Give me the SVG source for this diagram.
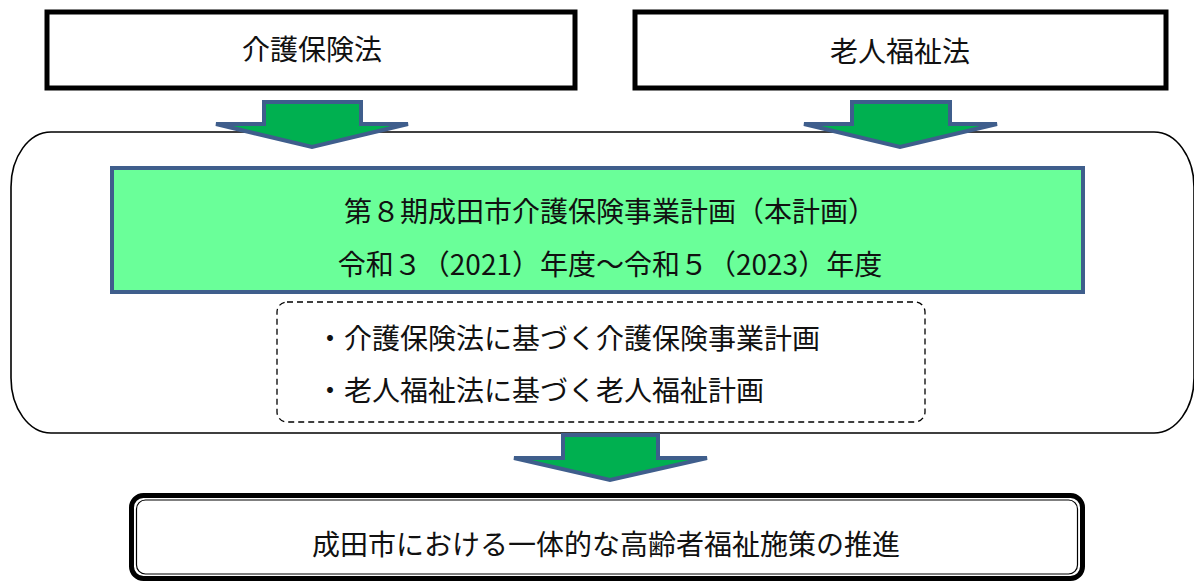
<svg xmlns="http://www.w3.org/2000/svg" width="1194" height="582" viewBox="0 0 1194 582">
<style>
text{font-family:"Noto Sans CJK JP","Noto Sans",sans-serif;font-size:28px;fill:#111;}
.c{text-anchor:middle;}
.law{fill:#fff;stroke:#000;stroke-width:5;}
.arrow{fill:#00B050;stroke:#3F5E8C;stroke-width:4;stroke-linejoin:miter;}
</style>
<rect x="0" y="0" width="1194" height="582" fill="#fff"/>
<g id="frame">
<rect x="11" y="132" width="1183" height="301" rx="40" ry="55" fill="#fff" stroke="#000" stroke-width="1.6"/>
</g>
<g id="law1">
<rect class="law" x="47" y="12" width="528" height="76"/>
<text class="c" x="312" y="60">介護保険法</text>
</g>
<g id="law2">
<rect class="law" x="635" y="12" width="531" height="76"/>
<text class="c" x="900" y="62">老人福祉法</text>
</g>
<g id="connectors">
<polygon class="arrow" points="264,102 361,102 361,124 408,124 312,147 216,124 264,124"/>
<polygon class="arrow" points="852,102 950,102 950,124 997,124 900,147 804,124 852,124"/>
</g>
<g id="plan">
<rect x="112" y="168" width="971" height="124" fill="#6AFF99" stroke="#3F5E8C" stroke-width="4"/>
<text class="c" x="610" y="222">第８期成田市介護保険事業計画（本計画）</text>
<text class="c" x="610" y="275">令和３（2021）年度～令和５（2023）年度</text>
</g>
<g id="contents">
<rect x="277" y="302" width="648" height="120" rx="10" fill="none" stroke="#000" stroke-width="1.3" stroke-dasharray="6,4"/>
<text x="316" y="349">・介護保険法に基づく介護保険事業計画</text>
<text x="316" y="401">・老人福祉法に基づく老人福祉計画</text>
</g>
<g id="connectors2">
<polygon class="arrow" points="563,435 658,435 658,458 707,458 610,480 514,458 563,458"/>
</g>
<g id="result">
<rect x="131.5" y="495.5" width="951" height="83" rx="12" fill="#fff" stroke="#000" stroke-width="5"/>
<rect x="136.5" y="500" width="941" height="74" rx="9" fill="none" stroke="#000" stroke-width="1.2"/>
<text class="c" x="606" y="555">成田市における一体的な高齢者福祉施策の推進</text>
</g>
</svg>
